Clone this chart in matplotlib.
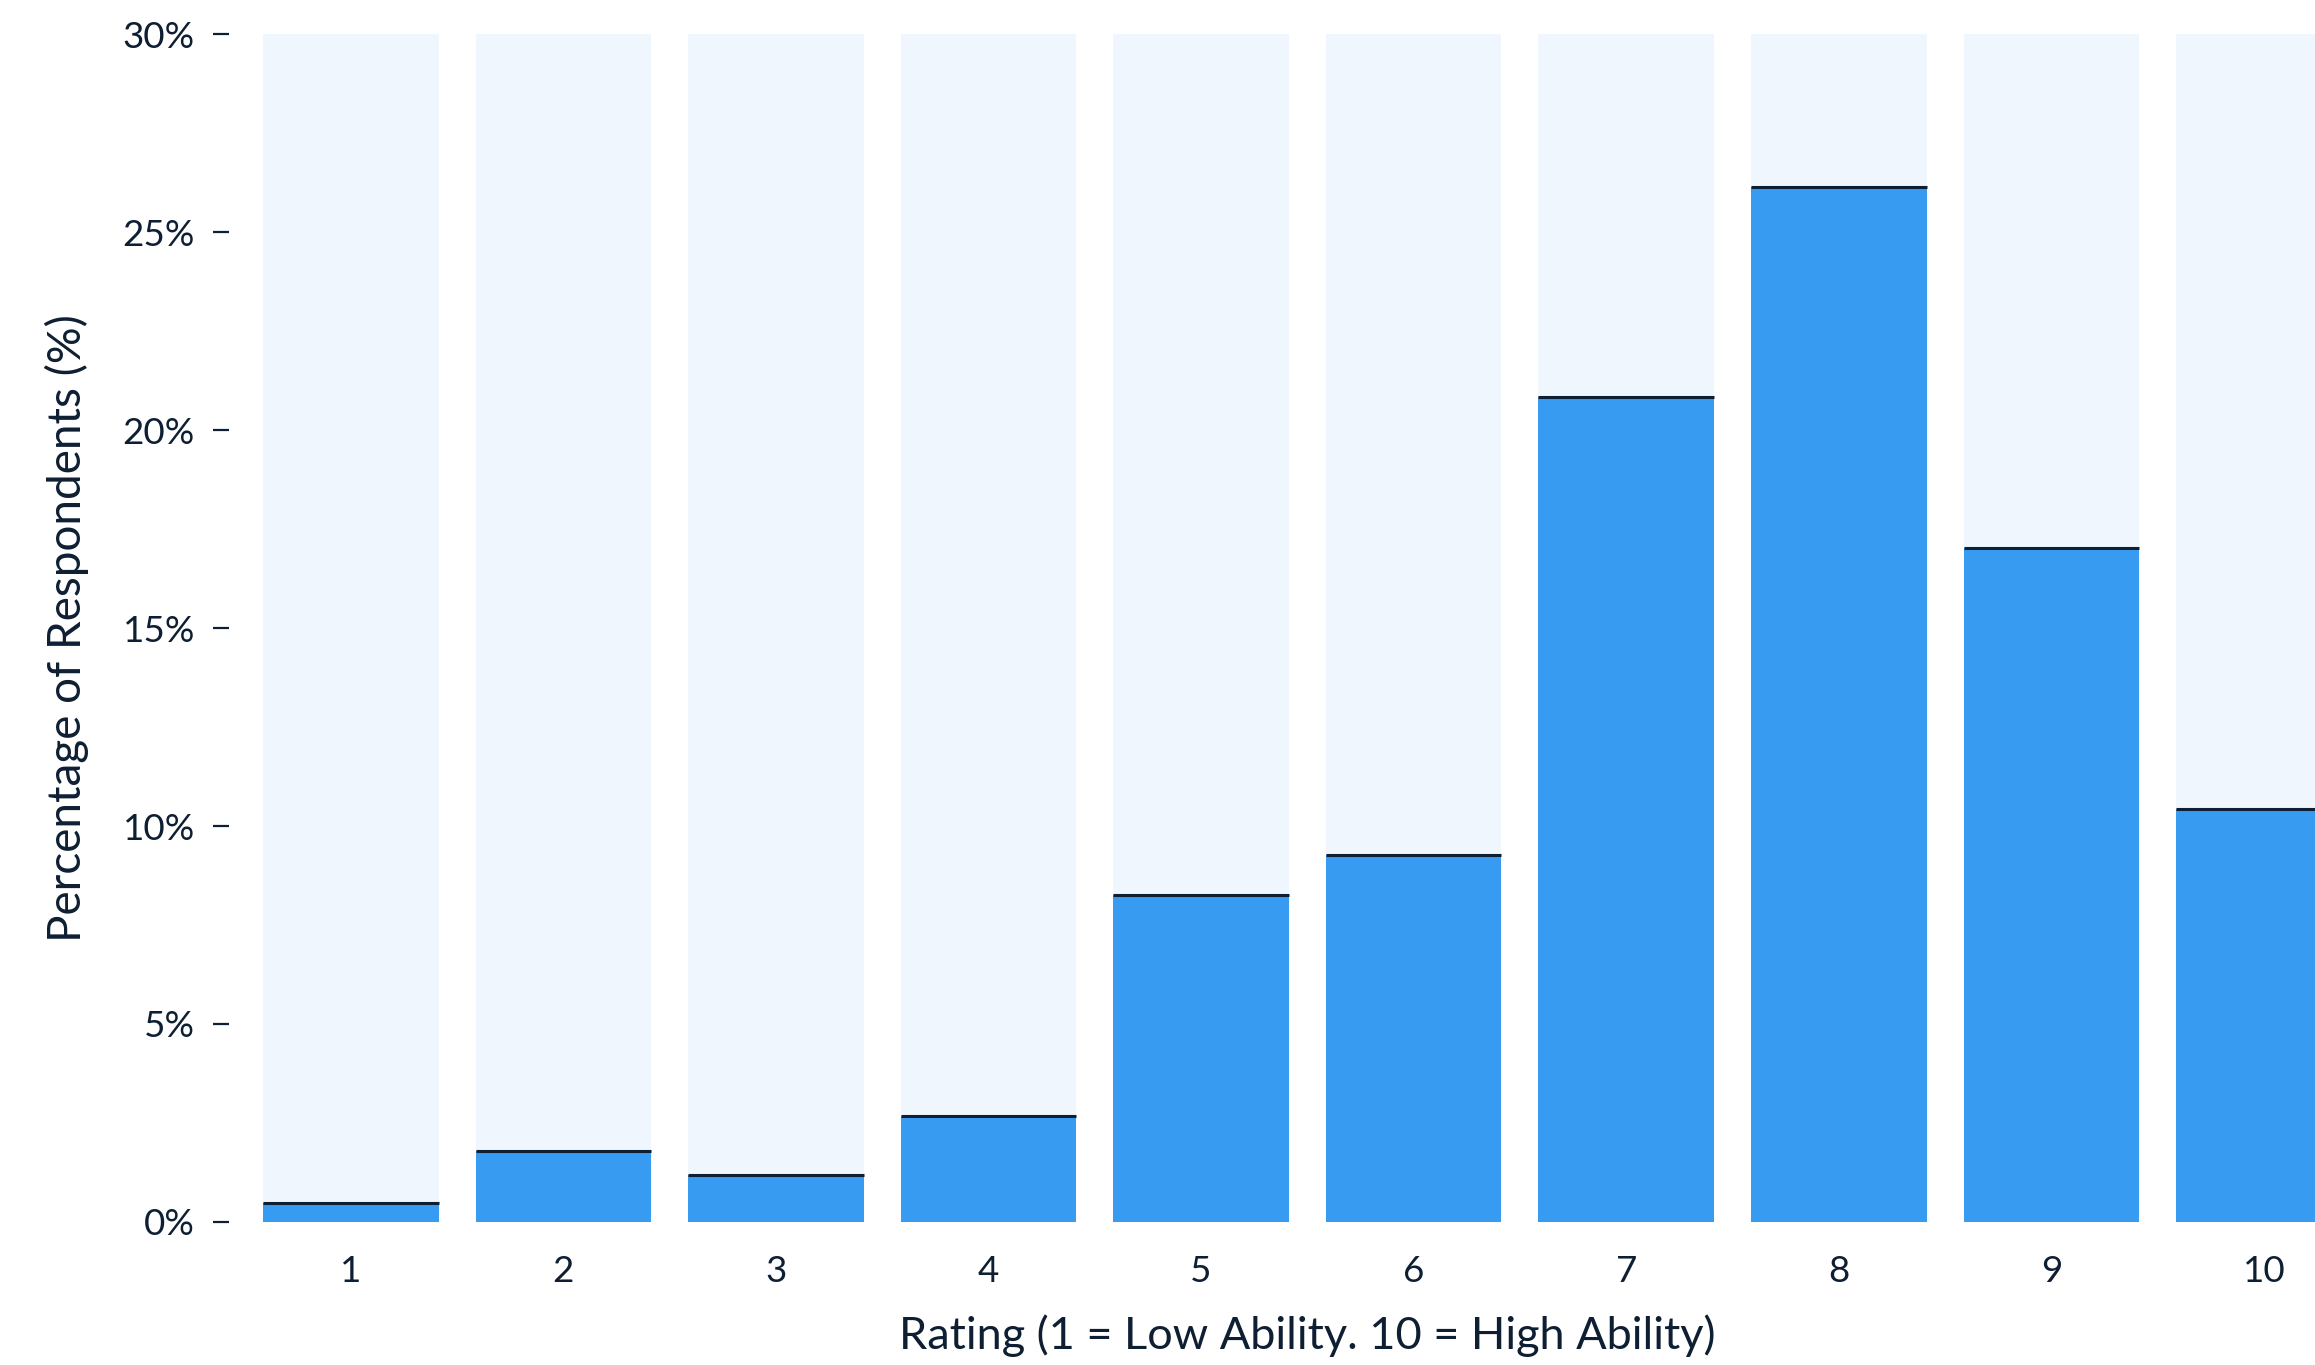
import numpy as np
import matplotlib.pyplot as plt

# %%
""" Data read off the chart """
ratings = [1, 2, 3, 4, 5, 6, 7, 8, 9, 10]
pct = [0.48, 1.79, 1.19, 2.68, 8.27, 9.28, 20.83, 26.13, 17.03, 10.44]
y_ticks = [0, 5, 10, 15, 20, 25, 30]
y_ticklabels = ['0%', '5%', '10%', '15%', '20%', '25%', '30%']

# %%
plt.rcParams['font.family'] = ['Lato', 'DejaVu Sans']
navy = '#0E1F33'
blue = '#379BF2'
pale = '#EFF6FD'

fig = plt.figure(figsize=(23.15, 13.65), dpi=100)
ax = fig.add_axes([0.0989, 0.1048, 0.9011, 0.8702])

width = 0.826
x = np.array(ratings)
ax.bar(x, [y_ticks[-1]] * len(x), width=width, color=pale, zorder=1)
ax.bar(x, pct, width=width, color=blue, zorder=2)
ax.hlines(pct, x - width / 2, x + width / 2, color=navy, lw=2.2, zorder=3)

ax.set_xlim(0.427, 10.24)
ax.set_ylim(0, 30)
for s in ax.spines.values():
    s.set_visible(False)

ax.set_xticks(x)
ax.set_xticklabels([str(r) for r in ratings])
ax.set_yticks(y_ticks)
ax.set_yticklabels(y_ticklabels)
ax.tick_params(axis='x', length=0, pad=24, labelsize=26.5, labelcolor=navy)
ax.tick_params(axis='y', length=11.5, width=1.6, color=navy, pad=13,
               labelsize=26.5, labelcolor=navy)

ax.set_xlabel('Rating (1 = Low Ability. 10 = High Ability)', fontsize=32.5,
              color=navy, labelpad=19)
ax.xaxis.label.set_x((5.5 - 0.427) / (10.24 - 0.427))
ax.set_ylabel('Percentage of Respondents (%)', fontsize=33, color=navy,
              labelpad=24)

fig.savefig('out.png', dpi=100)
